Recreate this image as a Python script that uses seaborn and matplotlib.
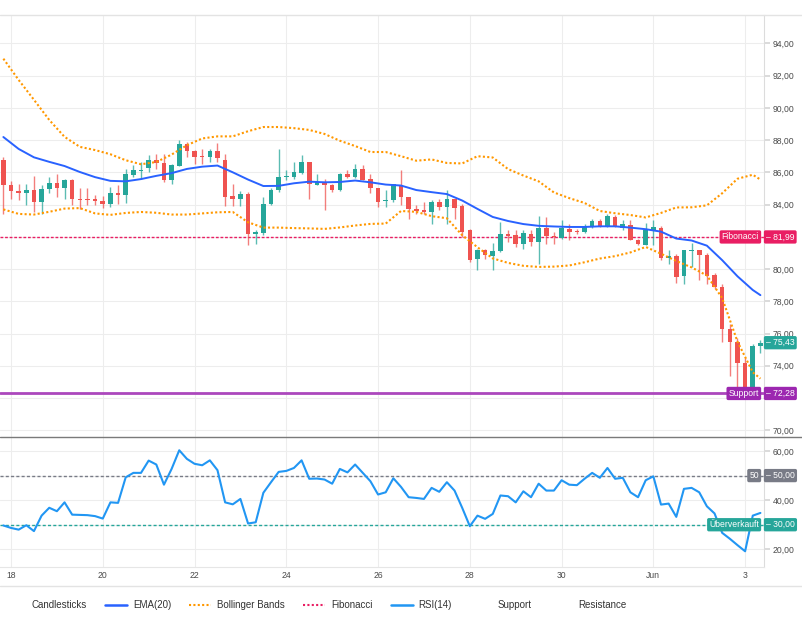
import matplotlib
matplotlib.use('Agg')
import matplotlib.pyplot as plt
from matplotlib.lines import Line2D
from matplotlib.ticker import FuncFormatter
import seaborn as sns
import pandas as pd
import numpy as np

## 4h candles, first one 17 May 20:00
start = '2024-05-17 20:00'

opens = [86.75, 85.20, 84.83, 84.72, 84.93, 84.16, 84.95, 85.36, 85.03, 85.50,
         84.33, 84.37, 84.37, 84.25, 84.02, 84.74, 84.62, 85.86, 86.08, 86.29,
         86.79, 86.58, 85.51, 86.39, 87.78, 87.30, 87.01, 86.95, 87.30, 86.75,
         84.51, 84.35, 84.64, 82.20, 82.24, 84.06, 84.89, 85.71, 85.71, 85.98,
         86.64, 85.24, 85.40, 85.24, 84.89, 85.92, 85.71, 86.23, 85.61, 85.05,
         84.20, 84.31, 85.20, 84.47, 83.75, 83.69, 83.54, 84.16, 83.85, 84.37,
         83.89, 82.41, 80.65, 81.21, 80.80, 81.12, 82.16, 82.10, 81.58, 82.20,
         81.68, 82.57, 82.03, 81.95, 82.51, 82.34, 82.30, 82.61, 82.98, 82.65,
         83.23, 82.57, 82.72, 81.83, 81.52, 82.45, 82.57, 80.71, 80.80, 79.55,
         81.12, 81.21, 80.86, 79.62, 78.89, 76.31, 75.48, 74.14, 72.59, 75.24]
highs = [86.95, 85.44, 85.30, 85.30, 85.77, 85.20, 85.71, 85.92, 85.60, 85.60,
         85.03, 85.03, 84.58, 84.51, 85.09, 85.20, 86.23, 86.44, 86.64, 87.06,
         87.16, 87.16, 86.54, 87.99, 87.88, 87.37, 87.47, 87.47, 87.82, 87.16,
         85.30, 84.82, 84.78, 82.45, 84.47, 85.05, 87.47, 86.17, 86.64, 87.06,
         86.64, 85.92, 85.61, 85.30, 85.98, 86.17, 86.50, 86.44, 85.88, 85.05,
         84.89, 85.30, 86.13, 84.47, 83.96, 84.16, 84.31, 84.37, 84.89, 84.37,
         84.06, 82.51, 81.27, 81.27, 81.62, 82.92, 82.41, 82.45, 82.45, 82.45,
         83.27, 83.23, 82.30, 83.07, 82.78, 82.51, 82.78, 83.13, 83.13, 83.40,
         83.34, 83.03, 83.03, 81.89, 82.86, 83.07, 82.65, 81.21, 80.96, 81.17,
         81.62, 81.21, 81.00, 79.76, 79.06, 76.62, 75.69, 74.45, 75.34, 75.59]
lows = [83.44, 84.37, 84.27, 83.96, 83.54, 83.40, 84.74, 84.47, 84.37, 83.96,
        83.75, 83.96, 83.96, 83.81, 83.83, 84.06, 84.10, 85.71, 85.61, 86.02,
        86.23, 85.40, 85.26, 86.37, 86.95, 86.50, 86.54, 86.64, 86.64, 83.89,
        83.89, 83.89, 81.48, 81.58, 82.10, 83.96, 84.78, 85.55, 85.61, 85.92,
        84.37, 85.20, 83.64, 84.78, 84.85, 85.67, 85.67, 85.51, 84.69, 83.85,
        83.85, 84.16, 83.96, 83.13, 83.44, 83.44, 82.82, 83.65, 82.82, 83.13,
        81.99, 80.44, 79.93, 80.65, 79.93, 81.06, 81.68, 81.37, 81.27, 81.41,
        80.30, 81.58, 81.58, 81.89, 81.83, 82.16, 82.24, 82.57, 82.61, 82.61,
        82.61, 82.45, 81.79, 81.48, 81.48, 81.48, 80.55, 80.34, 79.14, 79.06,
        80.13, 79.35, 79.06, 78.79, 75.48, 73.34, 72.49, 72.30, 72.50, 74.76]
closes = [85.20, 84.83, 84.72, 84.93, 84.16, 84.95, 85.36, 85.03, 85.50, 84.33,
          84.30, 84.28, 84.22, 84.02, 84.72, 84.62, 85.88, 86.13, 86.17, 86.79,
          86.58, 85.51, 86.44, 87.78, 87.32, 86.95, 86.95, 87.30, 86.91, 84.47,
          84.35, 84.64, 82.20, 82.30, 84.06, 84.93, 85.71, 85.77, 86.02, 86.64,
          85.26, 85.40, 85.24, 84.89, 85.92, 85.71, 86.23, 85.55, 85.05, 84.16,
          84.31, 85.26, 84.47, 83.75, 83.60, 83.54, 84.16, 83.85, 84.37, 83.81,
          82.30, 80.59, 81.21, 80.86, 81.12, 82.20, 82.05, 81.54, 82.24, 81.68,
          82.57, 82.03, 81.99, 82.57, 82.30, 82.28, 82.65, 82.98, 82.65, 83.27,
          82.65, 82.78, 81.83, 81.54, 82.41, 82.61, 80.71, 80.80, 79.51, 81.17,
          81.21, 80.86, 79.55, 78.89, 76.31, 75.48, 74.14, 72.59, 75.22, 75.43]

## indicators read at every second candle (plus the last one)
ema20 = [88.19, 87.45, 86.93, 86.65, 86.39, 86.02, 85.70, 85.47, 85.44, 85.58,
         85.78, 85.95, 86.21, 86.35, 86.42, 86.00, 85.55, 85.15, 85.16, 85.32,
         85.42, 85.38, 85.40, 85.49, 85.38, 85.24, 85.18, 84.90, 84.77, 84.65,
         84.25, 83.73, 83.23, 82.98, 82.79, 82.68, 82.64, 82.61, 82.61, 82.65,
         82.65, 82.57, 82.47, 82.32, 81.89, 81.77, 81.45, 80.55, 79.55, 78.70, 78.38]
bb_upper = [93.05, 91.73, 90.50, 89.25, 88.20, 87.58, 87.38, 87.12, 86.75, 86.50,
            86.64, 87.10, 87.68, 88.10, 88.23, 88.23, 88.55, 88.81, 88.81, 88.74,
            88.63, 88.38, 87.96, 87.63, 87.26, 87.26, 87.00, 86.72, 86.80, 86.58,
            86.55, 87.00, 86.92, 86.20, 85.80, 85.44, 84.75, 84.40, 84.10, 83.60,
            83.46, 83.35, 83.20, 83.48, 83.82, 83.83, 83.95, 84.70, 85.60, 85.85, 85.55]
bb_lower = [83.70, 83.42, 83.38, 83.55, 83.75, 83.78, 83.45, 83.36, 83.48, 83.54,
            83.49, 83.38, 83.38, 83.45, 83.52, 83.54, 82.90, 82.57, 82.57, 82.54,
            82.52, 82.49, 82.58, 82.70, 82.80, 82.82, 83.60, 83.55, 83.28, 83.15,
            82.10, 81.35, 80.66, 80.38, 80.20, 80.13, 80.15, 80.22, 80.42, 80.65,
            80.80, 81.03, 81.37, 80.95, 80.50, 80.10, 79.60, 78.20, 75.50, 73.60, 73.20]

rsi14 = [29.7, 28.7, 28.0, 29.8, 27.4, 33.7, 36.9, 35.5, 39.1, 34.1,
         34.0, 33.9, 33.5, 32.5, 39.1, 38.9, 49.3, 51.1, 51.1, 56.1,
         54.5, 46.3, 52.7, 60.3, 56.8, 54.8, 54.2, 56.2, 52.2, 39.1,
         38.3, 40.5, 30.5, 31.0, 43.0, 47.3, 51.5, 51.9, 53.1, 56.2,
         48.7, 48.8, 48.4, 46.7, 52.7, 51.3, 54.5, 51.1, 47.7, 42.3,
         43.2, 48.9, 45.4, 41.2, 40.9, 40.5, 45.0, 43.4, 47.3, 43.9,
         36.9, 29.4, 33.7, 32.4, 34.4, 41.9, 41.6, 39.1, 43.6, 41.2,
         46.7, 43.9, 43.9, 48.1, 46.3, 46.1, 48.7, 51.1, 49.1, 53.1,
         48.7, 49.1, 43.2, 41.2, 48.1, 49.7, 38.2, 38.6, 33.2, 44.6,
         45.0, 43.2, 37.5, 34.6, 26.7, 24.3, 21.7, 19.2, 33.7, 34.8]

fib_level = 81.99
support_level = 72.28
rsi_mid = 50
rsi_oversold = 30

day_ticks = ['2024-05-18', '2024-05-20', '2024-05-22', '2024-05-24', '2024-05-26',
             '2024-05-28', '2024-05-30', '2024-06-01', '2024-06-03']
day_labels = ['18', '20', '22', '24', '26', '28', '30', 'Jun', '3']

GREEN = '#26a69a'
RED = '#ef5350'
EMA_C = '#2962ff'
BB_C = '#ff9800'
FIB_C = '#e91e63'
RSI_C = '#2196f3'
SUP_C = '#ab47bc'
GRID = '#ededed'
TXT = '#4a4a4a'

sns.set_theme(style='white')
plt.rcParams['font.family'] = ['Liberation Sans', 'DejaVu Sans']

times = pd.date_range(start, periods=len(opens), freq='4h')
line_times = times[::2].append(times[-1:])
df = pd.DataFrame({'t': times, 'o': opens, 'h': highs, 'l': lows, 'c': closes, 'rsi': rsi14})
ind = pd.DataFrame({'t': line_times, 'ema': ema20, 'up': bb_upper, 'lo': bb_lower})

W, H = 802, 620
fig = plt.figure(figsize=(W / 100, H / 100), dpi=100)
ax = fig.add_axes([0, 1 - 436.5 / H, 764 / W, 421.5 / H])
ax2 = fig.add_axes([0, 1 - 567 / H, 764 / W, 130 / H])

step = pd.Timedelta(hours=4)
xmin, xmax = times[0] - 0.44 * step, times[-1] + 0.47 * step

# candles
up = df.c >= df.o
cols = np.where(up, GREEN, RED)
ax.vlines(df.t, df.l, df.h, colors=cols, lw=1, alpha=0.75, zorder=3)
body_lo = np.minimum(df.o, df.c)
body_h = np.maximum((df.c - df.o).abs(), 0.05)
ax.bar(df.t, body_h, bottom=body_lo, width=0.1, color=cols, zorder=4, linewidth=0)

sns.lineplot(data=ind, x='t', y='ema', ax=ax, color=EMA_C, linewidth=1.4, zorder=5)
sns.lineplot(data=ind, x='t', y='up', ax=ax, color=BB_C, linewidth=1.5, linestyle=(0, (1, 1.1)), zorder=5)
sns.lineplot(data=ind, x='t', y='lo', ax=ax, color=BB_C, linewidth=1.5, linestyle=(0, (1, 1.1)), zorder=5)

ax.axhline(fib_level, color=FIB_C, lw=1.0, ls=(0, (2, 1.3)), zorder=2)
ax.axhline(support_level, color=SUP_C, lw=2, zorder=2)

# RSI
sns.lineplot(data=df, x='t', y='rsi', ax=ax2, color=RSI_C, linewidth=1.5, zorder=5)
ax2.axhline(rsi_mid, color='#787b86', lw=1.0, ls=(0, (2.2, 1.6)), zorder=2)
ax2.axhline(rsi_oversold, color=GREEN, lw=1.0, ls=(0, (2.2, 1.6)), zorder=2)


def make_fmt(hidden):
    # tick labels that sit under a coloured tag are left blank
    return FuncFormatter(lambda v, p: '' if round(v) in hidden else f'{v:.2f}'.replace('.', ','))


for a in (ax, ax2):
    a.set_xlim(xmin, xmax)
    a.set_xticks(pd.to_datetime(day_ticks))
    a.set_xlabel('')
    a.set_ylabel('')
    a.yaxis.tick_right()
    a.tick_params(axis='y', length=4, color='#d6d6d6', pad=2, labelsize=6.2, labelcolor=TXT)
    a.tick_params(axis='x', length=0, pad=3, labelsize=6.2, labelcolor=TXT)
    a.grid(True, color=GRID, lw=0.8)
    a.set_axisbelow(True)
    for s in ('left', 'top', 'bottom'):
        a.spines[s].set_visible(False)
    a.spines['right'].set_color('#dcdcdc')
    a.spines['right'].set_linewidth(0.8)

ax.set_ylim(69.61, 95.76)
ax.set_yticks(np.arange(70, 95, 2))
ax.yaxis.set_major_formatter(make_fmt({72, 82}))
ax.set_xticklabels([])
ax2.set_ylim(12.8, 65.7)
ax2.set_yticks([20, 30, 40, 50, 60])
ax2.yaxis.set_major_formatter(make_fmt({30, 50}))
ax2.set_xticklabels(day_labels)
ax2.spines['bottom'].set_visible(True)
ax2.spines['bottom'].set_color('#e6e6e6')
ax2.spines['bottom'].set_linewidth(0.8)


def value_tag(a, y, text, color):
    a.text(1 + 2 / 764, y, '\u2013 ' + text, transform=a.get_yaxis_transform(), ha='left', va='center',
           fontsize=6.2, color='white', clip_on=False, zorder=10,
           bbox=dict(boxstyle='round,pad=0.25,rounding_size=0.2', fc=color, ec='none'))


def name_tag(a, y, text, color):
    a.text(1 - 5 / 764, y, text, transform=a.get_yaxis_transform(), ha='right', va='center',
           fontsize=6.2, color='white', clip_on=False, zorder=10,
           bbox=dict(boxstyle='round,pad=0.25,rounding_size=0.2', fc=color, ec='none'))


name_tag(ax, fib_level, 'Fibonacci', FIB_C)
value_tag(ax, fib_level, f'{fib_level:.2f}'.replace('.', ','), FIB_C)
name_tag(ax, support_level, 'Support', '#9c27b0')
value_tag(ax, support_level, f'{support_level:.2f}'.replace('.', ','), '#9c27b0')
value_tag(ax, closes[-1], f'{closes[-1]:.2f}'.replace('.', ','), GREEN)
name_tag(ax2, rsi_mid, '50', '#787b86')
value_tag(ax2, rsi_mid, '50,00', '#787b86')
name_tag(ax2, rsi_oversold, 'Überverkauft', GREEN)
value_tag(ax2, rsi_oversold, '30,00', GREEN)

# frame lines across the whole figure
for yy, c, lw in ((15, '#e3e3e3', 1.0), (436.7, '#7a7a7a', 1.0), (586, '#e3e3e3', 1.0)):
    fig.add_artist(Line2D([0, 1], [1 - yy / H] * 2, transform=fig.transFigure, color=c, lw=lw))

handles = [Line2D([], [], lw=0),
           Line2D([], [], color=EMA_C, lw=1.8),
           Line2D([], [], color=BB_C, lw=1.5, ls=(0, (1, 1.1))),
           Line2D([], [], color=FIB_C, lw=1.5, ls=(0, (1, 1.1))),
           Line2D([], [], color=RSI_C, lw=1.8),
           Line2D([], [], lw=0),
           Line2D([], [], lw=0)]
labels = ['Candlesticks', 'EMA(20)', 'Bollinger Bands', 'Fibonacci', 'RSI(14)', 'Support', 'Resistance']
fig.legend(handles, labels, loc='center left', bbox_to_anchor=(4 / W, 1 - 605 / H), ncol=7,
           frameon=False, fontsize=7, labelcolor='#333333', handlelength=2.26, handletextpad=0.62,
           columnspacing=1.85, borderpad=0, borderaxespad=0)

fig.savefig('out.png', dpi=100, facecolor='white')
